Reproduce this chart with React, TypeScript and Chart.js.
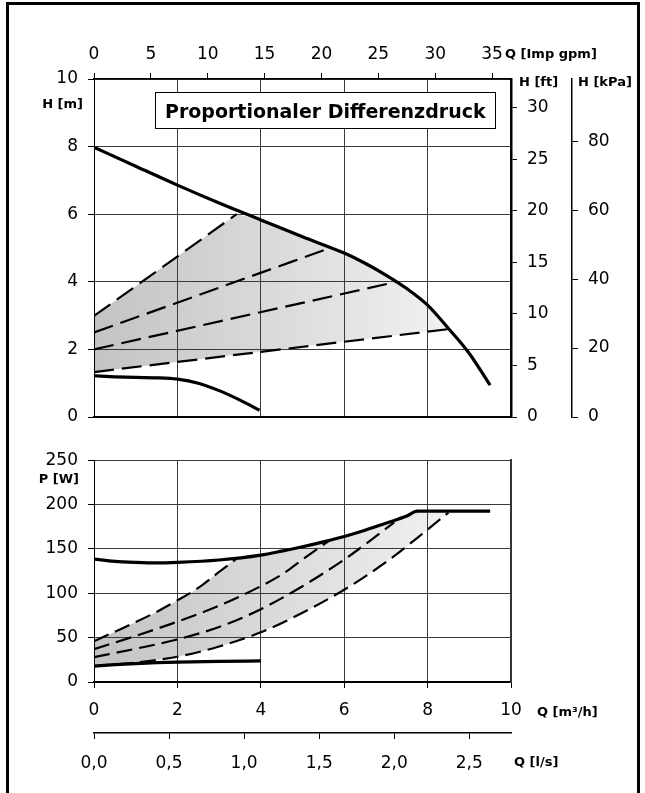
import React, { useEffect, useRef } from 'react';
import { Chart, registerables } from 'chart.js';

Chart.register(...registerables);

// ---------- data: head H [m] over flow Q [m³/h] ----------
const hMax = [
  { x: 0, y: 7.98 }, { x: 1, y: 7.42 }, { x: 2, y: 6.86 }, { x: 3, y: 6.33 },
  { x: 4, y: 5.83 }, { x: 5, y: 5.33 }, { x: 6, y: 4.85 }, { x: 6.5, y: 4.55 },
  { x: 7, y: 4.2 }, { x: 7.5, y: 3.8 }, { x: 8, y: 3.31 }, { x: 8.5, y: 2.62 },
  { x: 9, y: 1.88 }, { x: 9.5, y: 0.94 },
];
const hMin = [
  { x: 0, y: 1.22 }, { x: 0.5, y: 1.19 }, { x: 1, y: 1.17 }, { x: 1.5, y: 1.16 },
  { x: 2, y: 1.12 }, { x: 2.5, y: 1.0 }, { x: 3, y: 0.78 }, { x: 3.5, y: 0.5 },
  { x: 3.97, y: 0.2 },
];
const hDash1 = [{ x: 0, y: 2.99 }, { x: 3.42, y: 6.0 }];
const hDash2 = [{ x: 0, y: 2.5 }, { x: 5.66, y: 5.0 }];
const hDash3 = [{ x: 0, y: 2.0 }, { x: 7.26, y: 4.0 }];
const hDash4 = [{ x: 0, y: 1.33 }, { x: 8.5, y: 2.6 }];

// ---------- data: power P [W] over flow Q [m³/h] ----------
const pMax = [
  { x: 0, y: 138.5 }, { x: 0.5, y: 136 }, { x: 1, y: 134.8 }, { x: 1.5, y: 134.2 },
  { x: 2, y: 134.8 }, { x: 3, y: 137.5 }, { x: 4, y: 143 }, { x: 4.5, y: 147.5 },
  { x: 5, y: 152.5 }, { x: 5.5, y: 158 }, { x: 6, y: 164 }, { x: 6.5, y: 171 },
  { x: 7, y: 179 }, { x: 7.5, y: 187 }, { x: 7.75, y: 192.5 }, { x: 9.5, y: 192.5 },
];
const pMin = [
  { x: 0, y: 18 }, { x: 0.5, y: 19.5 }, { x: 1, y: 20.8 }, { x: 1.5, y: 21.8 },
  { x: 2, y: 22.5 }, { x: 3, y: 23.3 }, { x: 4, y: 23.7 },
];
const pDash1 = [
  { x: 0, y: 46 }, { x: 0.7, y: 61 }, { x: 1.5, y: 79 }, { x: 2, y: 92 },
  { x: 2.5, y: 106 }, { x: 3, y: 124 }, { x: 3.42, y: 139 },
];
const pDash2 = [
  { x: 0, y: 37 }, { x: 1, y: 52 }, { x: 2, y: 68 }, { x: 3, y: 86 },
  { x: 4, y: 108 }, { x: 4.5, y: 121 }, { x: 5, y: 138 }, { x: 5.66, y: 160 },
];
const pDash3 = [
  { x: 0, y: 28 }, { x: 1, y: 37.5 }, { x: 2, y: 48 }, { x: 3, y: 62 },
  { x: 4, y: 82 }, { x: 5, y: 108 }, { x: 6, y: 138 }, { x: 6.5, y: 155 },
  { x: 7.2, y: 180 },
];
const pDash4 = [
  { x: 0, y: 18 }, { x: 1, y: 22 }, { x: 2, y: 28.5 }, { x: 3, y: 40 },
  { x: 4, y: 56 }, { x: 5, y: 78 }, { x: 6, y: 104 }, { x: 7, y: 135 },
  { x: 7.74, y: 162 }, { x: 8.5, y: 191 },
];

// ---------- ticks ----------
const qTicks = [0, 2, 4, 6, 8, 10];
const hTicks = [0, 2, 4, 6, 8, 10];
const gpmTicks = [0, 5, 10, 15, 20, 25, 30, 35];
const ftTicks = [0, 5, 10, 15, 20, 25, 30];
const kpaTicks = [0, 20, 40, 60, 80];
const pTicks = [0, 50, 100, 150, 200, 250];
const lsTicks = [0, 0.5, 1.0, 1.5, 2.0, 2.5];

const Q_MAX = 10;
const H_MAX = 10;
const P_MAX = 250;
const GPM_PER_M3H = 3.6662;
const FT_PER_M = 3.28084;
const KPA_PER_M = 9.80665;
const LS_PER_M3H = 1 / 3.6;

const TITLE = 'Proportionaler Differenzdruck';

// ---------- helpers ----------
const FONT = 'DejaVu Sans';
const tickFont = { family: FONT, size: 17 };
const GRID = '#3a3a3a';

type Pt = { x: number; y: number };

function shadeTop(first: Pt[], curve: Pt[], last: Pt[]): Pt[] {
  const a = first[first.length - 1].x;
  const end = last[last.length - 1];
  return [...first, ...curve.filter((p) => p.x > a && p.x < end.x), end];
}

const setTicks = (vals: number[]) => (scale: any) => {
  scale.ticks = vals.map((v) => ({ value: v }));
};

function gradientFill(lower: Pt[]) {
  return (c: any) => {
    const ch = c.chart;
    if (!ch.chartArea) return 'rgba(0,0,0,0)';
    const xs = ch.scales.x;
    const g = ch.ctx.createLinearGradient(
      xs.getPixelForValue(0), 0, xs.getPixelForValue(lower[lower.length - 1].x), 0);
    g.addColorStop(0, '#c3c3c3');
    g.addColorStop(1, '#f1f1f1');
    return g;
  };
}

function solid(data: Pt[]) {
  return {
    data, borderColor: '#000', borderWidth: 3.2, pointRadius: 0, fill: false,
    cubicInterpolationMode: 'monotone', borderCapStyle: 'butt',
  };
}
function dashed(data: Pt[], dash: number[]) {
  return {
    data, borderColor: '#000', borderWidth: 2.2, pointRadius: 0, fill: false,
    cubicInterpolationMode: 'monotone', borderDash: dash,
  };
}
function shade(data: Pt[], lower: Pt[], targetIndex: number, smooth: boolean) {
  return {
    data, borderColor: 'rgba(0,0,0,0)', borderWidth: 0, pointRadius: 0,
    fill: targetIndex, backgroundColor: gradientFill(lower),
    cubicInterpolationMode: smooth ? 'monotone' : 'default', tension: 0,
  };
}

function textPlugin(draw: (c: CanvasRenderingContext2D) => void) {
  return {
    id: 'extraText',
    afterDraw(chart: any) {
      const c = chart.ctx as CanvasRenderingContext2D;
      c.save();
      draw(c);
      c.restore();
    },
  };
}

function label(c: CanvasRenderingContext2D, s: string, x: number, y: number, align: CanvasTextAlign = 'left') {
  c.font = `bold 13px "${FONT}"`;
  c.fillStyle = '#000';
  c.textAlign = align;
  c.textBaseline = 'middle';
  c.fillText(s, x, y);
}

function topConfig(): any {
  return {
    type: 'line',
    data: {
      datasets: [
        shade(shadeTop(hDash1, hMax, hDash4), hDash4, 6, false),
        solid(hMax),
        solid(hMin),
        dashed(hDash1, [20, 8]),
        dashed(hDash2, [20, 8]),
        dashed(hDash3, [20, 8]),
        dashed(hDash4, [20, 8]),
      ],
    },
    options: {
      responsive: false,
      animation: false,
      devicePixelRatio: 1,
      parsing: false,
      layout: { padding: 0 },
      plugins: { legend: { display: false }, tooltip: { enabled: false }, filler: { drawTime: 'beforeDraw' } },
      scales: {
        x: {
          type: 'linear', position: 'bottom', min: 0, max: Q_MAX,
          afterBuildTicks: setTicks(qTicks),
          ticks: { display: false },
          grid: { color: GRID, lineWidth: 1, drawTicks: false },
          border: { color: '#000', width: 2 },
          afterFit: (s: any) => { s.height = 23; },
        },
        xGpm: {
          type: 'linear', position: 'top', min: 0, max: Q_MAX * GPM_PER_M3H,
          afterBuildTicks: setTicks(gpmTicks),
          ticks: { font: tickFont, color: '#000', padding: 8, maxRotation: 0, autoSkip: false },
          grid: { drawOnChartArea: false, tickLength: 6, tickColor: '#000', lineWidth: 1 },
          border: { color: '#000', width: 1.5 },
          afterFit: (s: any) => { s.height = 79; },
        },
        y: {
          type: 'linear', position: 'left', min: 0, max: H_MAX,
          afterBuildTicks: setTicks(hTicks),
          ticks: { font: tickFont, color: '#000', padding: 10, autoSkip: false },
          grid: { color: GRID, lineWidth: 1, tickLength: 6, tickColor: '#000' },
          border: { color: '#000', width: 1 },
          afterFit: (s: any) => { s.width = 94; },
        },
        yFt: {
          type: 'linear', position: 'right', min: 0, max: H_MAX * FT_PER_M,
          afterBuildTicks: setTicks(ftTicks),
          ticks: { font: tickFont, color: '#000', padding: 10, autoSkip: false },
          grid: { drawOnChartArea: false, tickLength: 6, tickColor: '#000', lineWidth: 1 },
          border: { color: '#000', width: 2.5 },
          afterFit: (s: any) => { s.width = 61; },
        },
        yKpa: {
          type: 'linear', position: 'right', min: 0, max: H_MAX * KPA_PER_M,
          afterBuildTicks: setTicks(kpaTicks),
          ticks: { font: tickFont, color: '#000', padding: 10, autoSkip: false },
          grid: { drawOnChartArea: false, tickLength: 6, tickColor: '#000', lineWidth: 1 },
          border: { color: '#000', width: 1.5 },
          afterFit: (s: any) => { s.width = 73; },
        },
      },
    },
    plugins: [
      textPlugin((c) => {
        c.fillStyle = '#fff';
        c.fillRect(155, 92, 340, 36);
        c.strokeStyle = '#000';
        c.lineWidth = 1;
        c.strokeRect(155.5, 92.5, 340, 36);
        c.font = `bold 19px "${FONT}"`;
        c.fillStyle = '#000';
        c.textAlign = 'left';
        c.textBaseline = 'alphabetic';
        c.fillText(TITLE, 165, 118);
        label(c, 'H [m]', 83, 105, 'right');
        label(c, 'Q [Imp gpm]', 505, 55);
        label(c, 'H [ft]', 519, 83);
        label(c, 'H [kPa]', 578, 83);
      }),
    ],
  };
}

function bottomConfig(): any {
  return {
    type: 'line',
    data: {
      datasets: [
        shade(shadeTop(pDash1, pMax, pDash4), pDash4, 6, true),
        solid(pMax),
        solid(pMin),
        dashed(pDash1, [16, 7]),
        dashed(pDash2, [16, 7]),
        dashed(pDash3, [16, 7]),
        dashed(pDash4, [16, 7]),
      ],
    },
    options: {
      responsive: false,
      animation: false,
      devicePixelRatio: 1,
      parsing: false,
      layout: { padding: { top: 15, left: 0, right: 0, bottom: 0 } },
      plugins: { legend: { display: false }, tooltip: { enabled: false }, filler: { drawTime: 'beforeDraw' } },
      scales: {
        x: {
          type: 'linear', position: 'bottom', min: 0, max: Q_MAX,
          afterBuildTicks: setTicks(qTicks),
          ticks: { font: tickFont, color: '#000', padding: 12, maxRotation: 0, autoSkip: false },
          grid: { color: GRID, lineWidth: 1, tickLength: 6, tickColor: '#000' },
          border: { color: '#000', width: 2 },
          afterFit: (s: any) => { s.height = 51; },
        },
        xLs: {
          type: 'linear', position: 'bottom', min: 0, max: Q_MAX * LS_PER_M3H,
          afterBuildTicks: setTicks(lsTicks),
          ticks: {
            font: tickFont, color: '#000', padding: 14, maxRotation: 0, autoSkip: false,
            callback: (v: number) => v.toFixed(1).replace('.', ','),
          },
          grid: { drawOnChartArea: false, tickLength: 6, tickColor: '#000', lineWidth: 1 },
          border: { color: '#000', width: 1.5 },
          afterFit: (s: any) => { s.height = 60; },
        },
        y: {
          type: 'linear', position: 'left', min: 0, max: P_MAX,
          afterBuildTicks: setTicks(pTicks),
          ticks: { font: tickFont, color: '#000', padding: 10, autoSkip: false },
          grid: { color: GRID, lineWidth: 1, tickLength: 6, tickColor: '#000' },
          border: { color: '#000', width: 1 },
          afterFit: (s: any) => { s.width = 94; },
        },
        yR: {
          type: 'linear', position: 'right', min: 0, max: P_MAX,
          ticks: { display: false },
          grid: { drawOnChartArea: false, drawTicks: false },
          border: { color: '#333', width: 2 },
          afterFit: (s: any) => { s.width = 134; },
        },
      },
    },
    plugins: [
      textPlugin((c) => {
        label(c, 'P [W]', 79, 40, 'right');
        label(c, 'Q [m³/h]', 537, 273);
        label(c, 'Q [l/s]', 514, 323);
      }),
    ],
  };
}

export default function App() {
  const topRef = useRef<HTMLCanvasElement>(null);
  const botRef = useRef<HTMLCanvasElement>(null);
  useEffect(() => {
    const c1 = new Chart(topRef.current as HTMLCanvasElement, topConfig());
    const c2 = new Chart(botRef.current as HTMLCanvasElement, bottomConfig());
    return () => { c1.destroy(); c2.destroy(); };
  }, []);
  return (
    <div style={{ position: 'fixed', left: 0, top: 0, width: 645, height: 793, overflow: 'hidden', background: '#fff' }}>
      <div style={{ position: 'absolute', left: 6, top: 2, width: 634, height: 900, border: '3px solid #000', boxSizing: 'border-box' }} />
      <canvas ref={topRef} width={645} height={440} style={{ position: 'absolute', left: 0, top: 0 }} />
      <canvas ref={botRef} width={645} height={353} style={{ position: 'absolute', left: 0, top: 440 }} />
    </div>
  );
}
